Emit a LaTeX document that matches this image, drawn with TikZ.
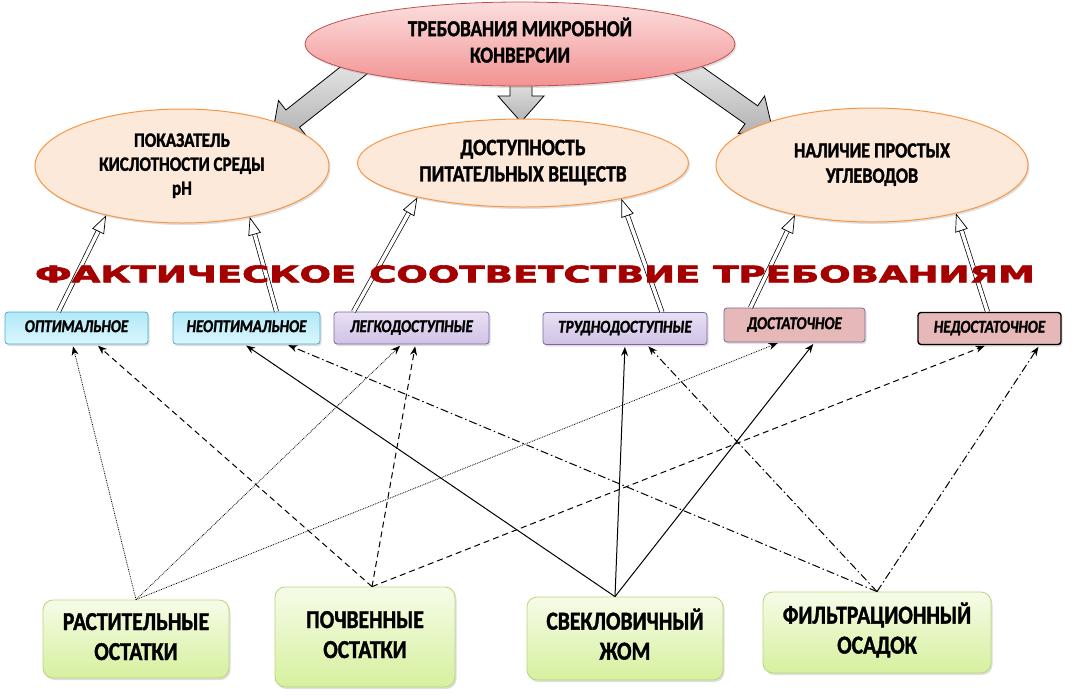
\documentclass[tikz,border=0pt]{standalone}
\usepackage{fontspec}
\setmainfont{Carlito}[BoldFont={Carlito Bold},ItalicFont={Carlito Italic},BoldItalicFont={Carlito Bold Italic},BoldFeatures={FakeBold=1.6},BoldItalicFeatures={FakeBold=1.6}]
\newfontfamily\titlefont{DejaVu Sans}[BoldFont={DejaVu Sans Bold},BoldFeatures={FakeBold=2.5}]
\usepackage{graphicx}
\usepackage{xcolor}
\usetikzlibrary{shapes.geometric,arrows.meta,shadows,backgrounds}

\definecolor{critline}{RGB}{192,80,77}
\definecolor{crittop}{RGB}{252,222,222}
\definecolor{critbot}{RGB}{242,146,146}
\definecolor{reqline}{RGB}{247,150,70}
\definecolor{reqfill}{RGB}{253,233,217}
\definecolor{optline}{RGB}{75,172,198}
\definecolor{opttop}{RGB}{178,233,248}
\definecolor{optbot}{RGB}{218,246,253}
\definecolor{accline}{RGB}{128,100,162}
\definecolor{acctop}{RGB}{232,224,244}
\definecolor{accbot}{RGB}{208,194,230}
\definecolor{suffill}{RGB}{230,184,183}
\definecolor{wasteline}{RGB}{183,214,122}
\definecolor{wastetop}{RGB}{246,252,232}
\definecolor{wastebot}{RGB}{214,240,158}
\definecolor{titlered}{RGB}{165,0,0}

\newcommand{\tallbox}[1]{\scalebox{1}[1.2]{\begin{tabular}{@{}c@{}}#1\end{tabular}}}

\tikzset{
  grayarrow/.pic={
    \draw[blockarrow] (0,-11) -- ({#1-26},-11) -- ({#1-26},-23) -- (#1,0)
      -- ({#1-26},23) -- ({#1-26},11) -- (0,11) -- cycle;
  }
}
\tikzset{
  blockarrow/.style={
    draw=black,
    line width=0.8pt,
    top color=gray!12,
    bottom color=gray!60
  },
  crit/.style={
    ellipse,
    draw=critline,
    line width=0.8pt,
    top color=crittop,
    bottom color=critbot,
    inner sep=0pt,
    minimum width=430pt,
    minimum height=84pt,
    drop shadow={opacity=0.25,shadow xshift=1.5pt,shadow yshift=-2pt},
    font=\fontsize{19}{22}\selectfont\bfseries
  },
  req/.style={
    ellipse,
    draw=reqline,
    line width=1pt,
    fill=reqfill,
    inner sep=0pt,
    drop shadow={opacity=0.25,shadow xshift=1.5pt,shadow yshift=-2pt},
    font=\fontsize{18}{21}\selectfont\bfseries
  },
  fact/.style={
    rectangle,
    rounded corners=3pt,
    line width=0.8pt,
    inner sep=0pt,
    minimum height=32pt,
    drop shadow={opacity=0.25,shadow xshift=1.5pt,shadow yshift=-2pt},
    font=\fontsize{15}{17}\selectfont\bfseries\itshape
  },
  optbox/.style={fact, draw=optline, top color=opttop, bottom color=optbot},
  accbox/.style={fact, draw=accline, top color=acctop, bottom color=accbot},
  sufbox/.style={fact, draw=accline, fill=suffill},
  waste/.style={
    rectangle,
    rounded corners=10pt,
    draw=wasteline,
    line width=0.8pt,
    top color=wastetop,
    bottom color=wastebot,
    inner sep=0pt,
    drop shadow={opacity=0.25,shadow xshift=1.5pt,shadow yshift=-2pt},
    font=\fontsize{21.5}{25}\selectfont\bfseries
  },
  hollow/.style={
    double=white,
    double distance=3.5pt,
    line width=0.7pt,
    -{Triangle[length=18pt,width=13pt,fill=white]}
  },
  link/.style={
    line width=1pt,
    shorten >=2pt,
    -{Stealth[length=9pt,width=7pt]}
  },
  dotlink/.style={link, line width=0.8pt, densely dotted},
  dashlink/.style={link, dash pattern=on 6pt off 4pt},
  dotdashlink/.style={link, dash pattern=on 8pt off 3pt on 1.5pt off 3pt}
}

\begin{document}
\begin{tikzpicture}[x=1pt,y=1pt]
  \useasboundingbox (0,0) rectangle (1091,-694);

  % requirements
  \node[crit] (crit) at (520,-44) {\tallbox{ТРЕБОВАНИЯ МИКРОБНОЙ\\КОНВЕРСИИ}};
  \node[req, minimum width=294pt, minimum height=114pt, font=\fontsize{17}{20}\selectfont\bfseries] (ph) at (182,-166)
    {\tallbox{ПОКАЗАТЕЛЬ\\КИСЛОТНОСТИ СРЕДЫ\\pH}};
  \node[req, minimum width=331pt, minimum height=88pt, font=\fontsize{19.5}{22}\selectfont\bfseries] (avail) at (523,-163)
    {\tallbox{ДОСТУПНОСТЬ\\ПИТАТЕЛЬНЫХ ВЕЩЕСТВ}};
  \node[req, minimum width=312pt, minimum height=114pt] (carb) at (872,-165)
    {\tallbox{НАЛИЧИЕ ПРОСТЫХ\\УГЛЕВОДОВ}};

  \begin{scope}[on background layer]
    \path (crit.center) ++(-148,-12) pic[rotate=218.3] {grayarrow=127};
    \path (crit.center) ++(1,-26) pic[rotate=-90] {grayarrow=52};
    \path (crit.center) ++(148,-12) pic[rotate=-35.2] {grayarrow=128};
  \end{scope}

  % actual values
  \node[optbox, minimum width=143pt] (opt) at (76.5,-328) {\tallbox{ОПТИМАЛЬНОЕ}};
  \node[optbox, minimum width=147pt] (neopt) at (246.5,-328) {\tallbox{НЕОПТИМАЛЬНОЕ}};
  \node[accbox, minimum width=155pt] (easy) at (411.5,-328) {\tallbox{ЛЕГКОДОСТУПНЫЕ}};
  \node[accbox, minimum width=164pt] (hard) at (625,-328.5) {\tallbox{ТРУДНОДОСТУПНЫЕ}};
  \node[sufbox, minimum width=141pt, minimum height=34pt] (suff) at (794.5,-325) {\tallbox{ДОСТАТОЧНОЕ}};
  \node[sufbox, draw=black, line width=1.4pt, minimum width=143pt] (insuff) at (989.5,-328.5) {\tallbox{НЕДОСТАТОЧНОЕ}};

  \draw[hollow] ([xshift=-18pt]opt.north) -- (ph.213);
  \draw[hollow] ([xshift=30pt]neopt.north) -- (ph.323);
  \draw[hollow] ([xshift=-58pt]easy.north) -- (avail.198);
  \draw[hollow] ([xshift=37pt]hard.north) -- (avail.340);
  \draw[hollow] ([xshift=-44pt]suff.north) -- (carb.213);
  \draw[hollow] ([xshift=-2pt]insuff.north) -- (carb.330);

  \node[text=titlered, inner sep=0pt] (fact) at (535,-274)
    {\resizebox{1000pt}{17pt}{\titlefont\bfseries ФАКТИЧЕСКОЕ СООТВЕТСТВИЕ ТРЕБОВАНИЯМ}};

  % waste materials
  \node[waste, minimum width=186pt, minimum height=78pt] (plant) at (136,-639)
    {\tallbox{РАСТИТЕЛЬНЫЕ\\ОСТАТКИ}};
  \node[waste, minimum width=180pt, minimum height=100pt] (soil) at (365,-637)
    {\tallbox{ПОЧВЕННЫЕ\\ОСТАТКИ}};
  \node[waste, minimum width=196pt, minimum height=83pt] (beet) at (625,-638.5)
    {\tallbox{СВЕКЛОВИЧНЫЙ\\ЖОМ}};
  \node[waste, minimum width=228pt, minimum height=81pt] (cake) at (877,-632.5)
    {\tallbox{ФИЛЬТРАЦИОННЫЙ\\ОСАДОК}};

  \draw[dotlink] (plant.north) -- ([xshift=-4pt]opt.south);
  \draw[dotlink] (plant.north) -- ([xshift=-10pt]easy.south);
  \draw[dotlink] (plant.north) -- ([xshift=-15pt]suff.south);
  \draw[dashlink] ([xshift=7pt]soil.north) -- ([xshift=20pt]opt.south);
  \draw[dashlink] ([xshift=7pt]soil.north) -- ([xshift=4pt]easy.south);
  \draw[dashlink] ([xshift=7pt]soil.north) -- ([xshift=-3pt]insuff.south);
  \draw[link] ([xshift=-10pt]beet.north) -- ([xshift=-2pt]neopt.south);
  \draw[link] ([xshift=-10pt]beet.north) -- (hard.south);
  \draw[link] ([xshift=-10pt]beet.north) -- ([xshift=20pt]suff.south);
  \draw[dotdashlink] (cake.north) -- ([xshift=40pt]neopt.south);
  \draw[dotdashlink] (cake.north) -- ([xshift=22pt]hard.south);
  \draw[dotdashlink] (cake.north) -- ([xshift=50pt]insuff.south);
\end{tikzpicture}
\end{document}
